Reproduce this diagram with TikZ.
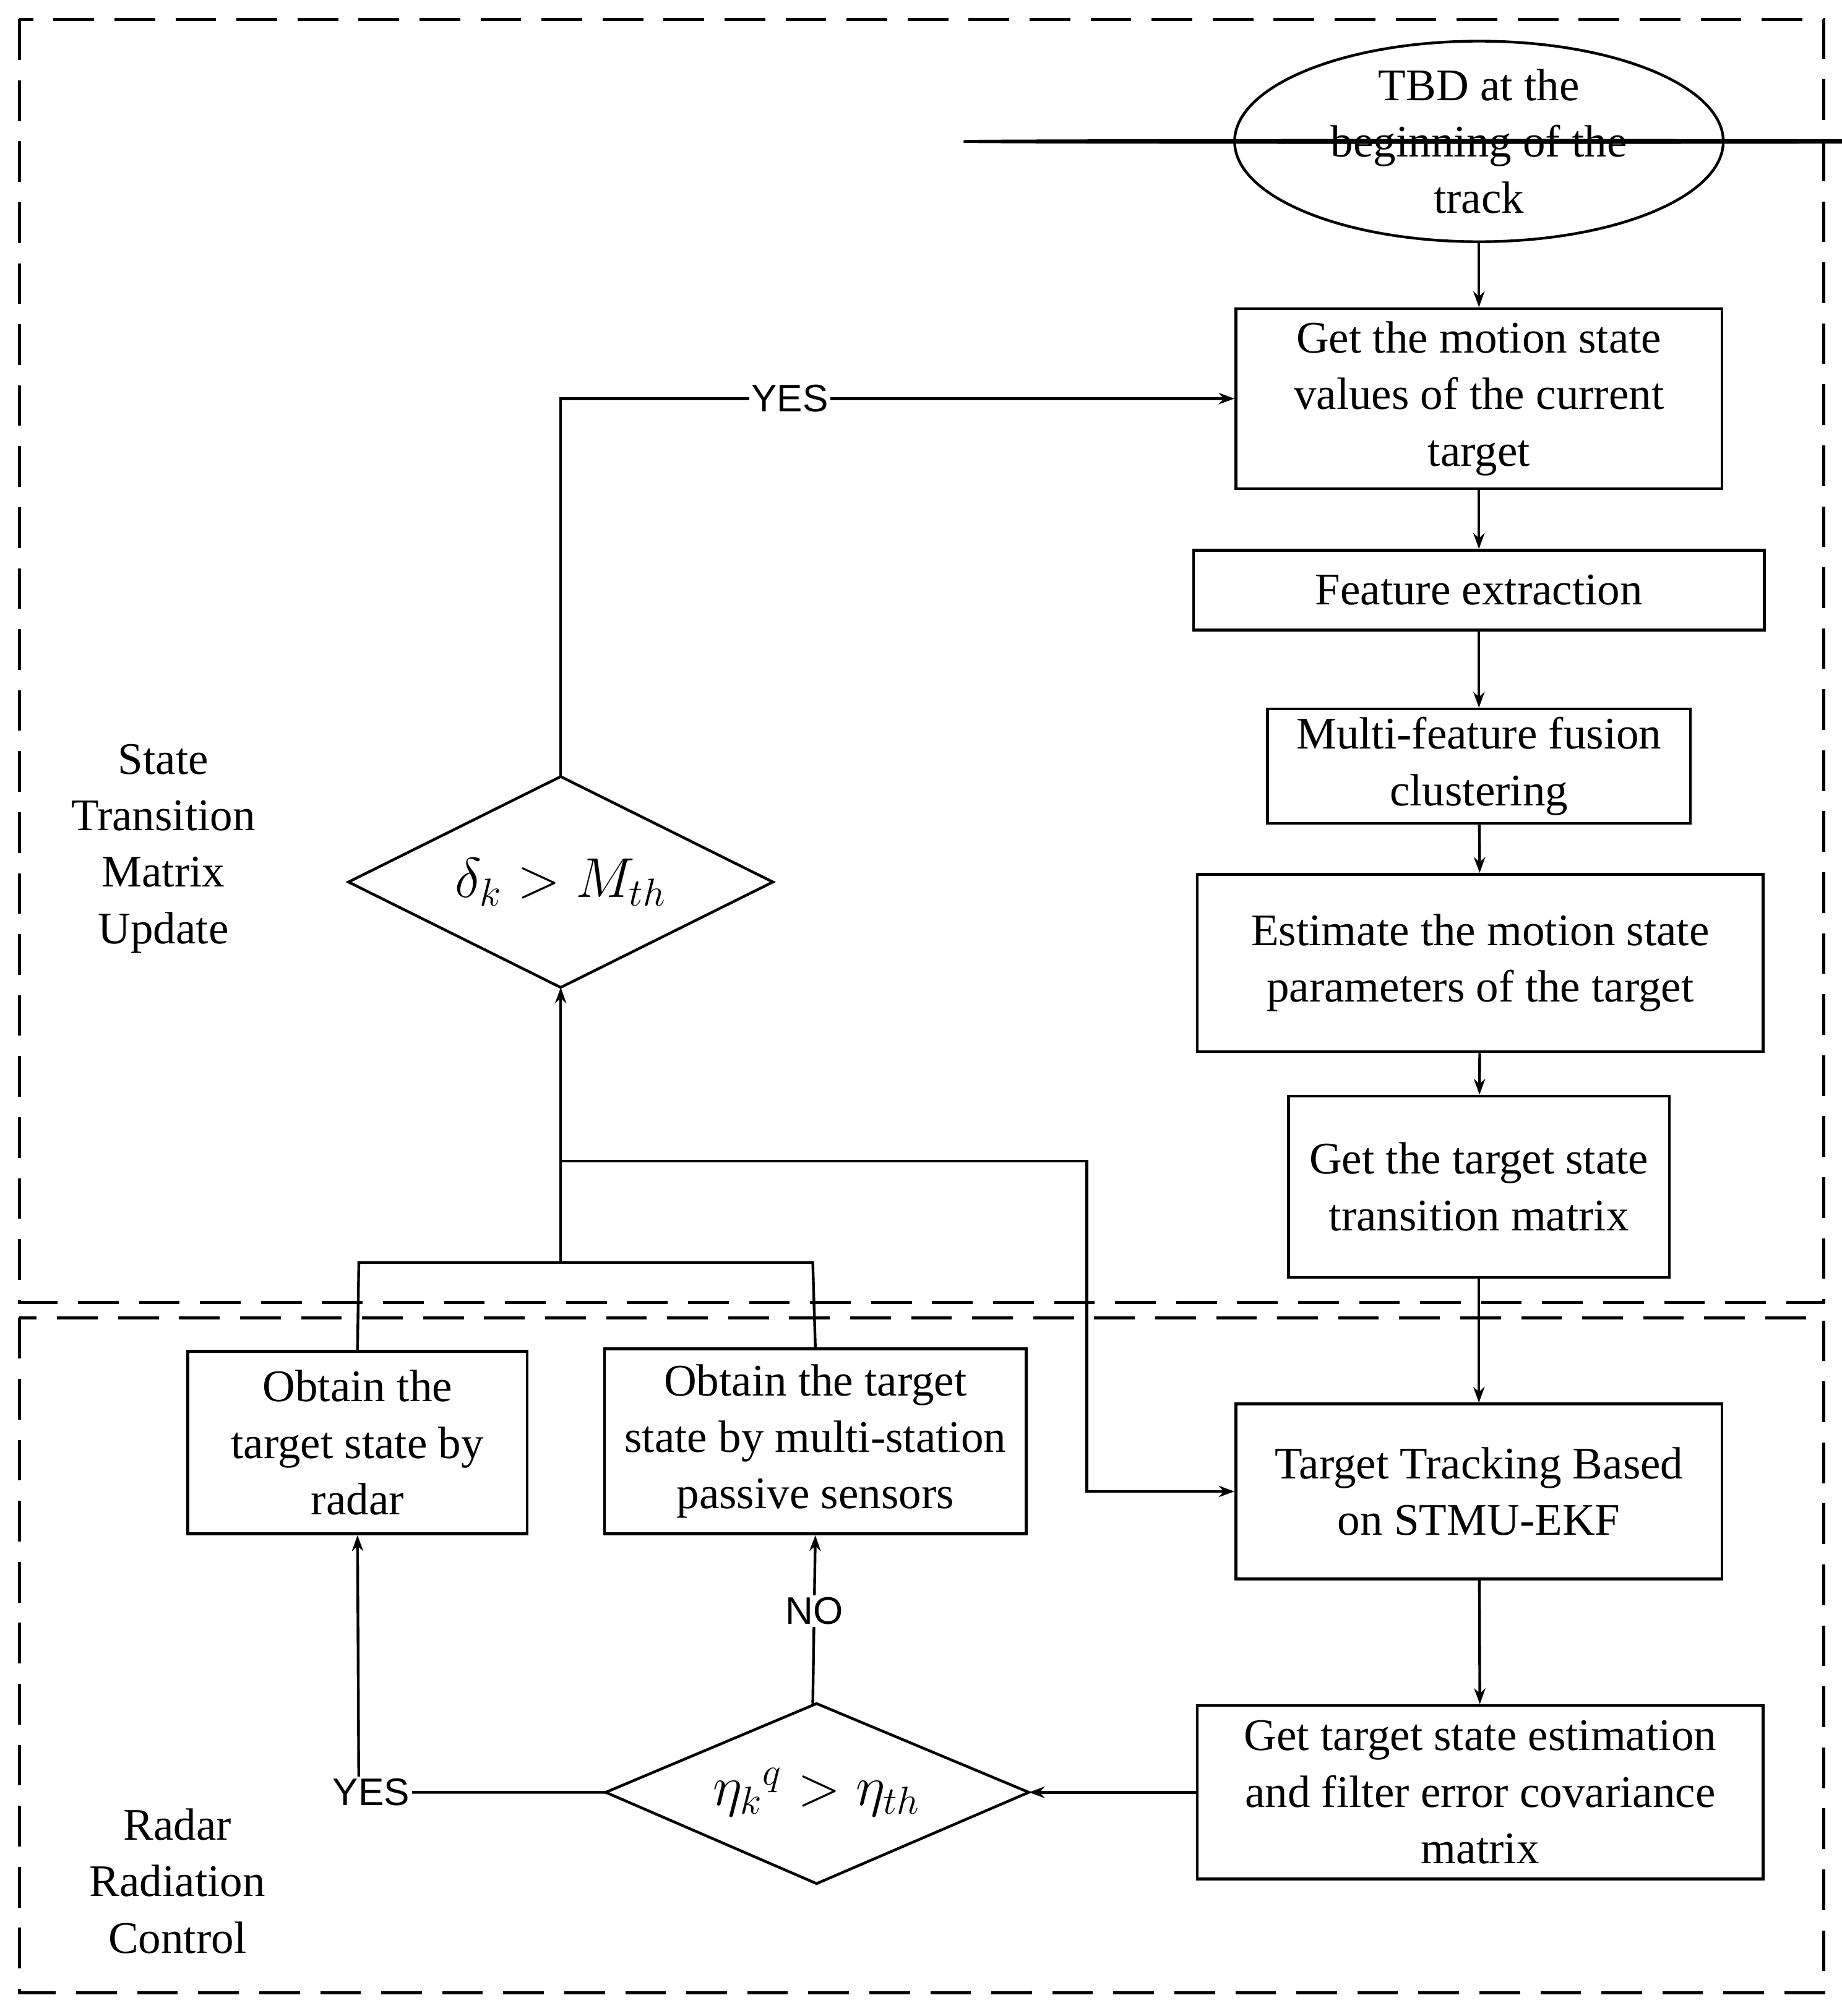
\documentclass[tikz,border=0pt]{standalone}
\usepackage{fontspec}
\setmainfont{Liberation Serif}
\newfontfamily\sansf{Liberation Sans}
\usetikzlibrary{shapes.geometric,arrows.meta}
\begin{document}
\begin{tikzpicture}[x=0.02cm,y=-0.02cm,
  box/.style={draw,line width=1.2pt,align=center,font=\fontsize{20}{25}\selectfont,inner sep=0pt},
  lab/.style={font=\sansf\fontsize{17}{20}\selectfont,fill=white,inner sep=1pt},
  every path/.style={line width=1.2pt},
  arr/.style={-{Stealth[length=7pt,width=5pt]}},
  dsh/.style={draw,dash pattern=on 18pt off 9pt,line width=1.3pt}]
\useasboundingbox (0,0) rectangle (1432,1568);
\draw[dsh] (15,15) rectangle (1418,1013);
\draw[dsh] (15,1025) rectangle (1418,1550);
\node[box,ellipse,minimum width=380\pgflinewidth,inner sep=0pt] (e) at (1150,110) {};
\draw[line width=1.2pt] (1150,110) ellipse [x radius=190, y radius=78];
\node[align=center,font=\fontsize{20}{25}\selectfont] at (1150,110) {TBD at the\\beginning of the\\track};
\coordinate (etop) at (1150,188);
\node[box,minimum width=378*0.02cm,minimum height=140*0.02cm] (b1) at (1150,310) {Get the motion state\\values of the current\\target};
\node[box,minimum width=444*0.02cm,minimum height=62*0.02cm] (b2) at (1150,459) {Feature extraction};
\node[box,minimum width=329*0.02cm,minimum height=89*0.02cm] (b3) at (1150,596) {Multi-feature fusion\\clustering};
\node[box,minimum width=440*0.02cm,minimum height=138*0.02cm] (b4) at (1151,749) {Estimate the motion state\\parameters of the target};
\node[box,minimum width=296*0.02cm,minimum height=141*0.02cm] (b5) at (1150,923) {Get the target state\\transition matrix};
\node[box,minimum width=378*0.02cm,minimum height=136*0.02cm] (b6) at (1150,1160) {Target Tracking Based\\on STMU-EKF};
\node[box,minimum width=440*0.02cm,minimum height=135*0.02cm] (b7) at (1151,1394) {Get target state estimation\\and filter error covariance\\matrix};
\node[box,minimum width=264*0.02cm,minimum height=142*0.02cm] (br) at (278,1122) {Obtain the\\target state by\\radar};
\node[box,minimum width=328*0.02cm,minimum height=144*0.02cm] (bp) at (634,1121) {Obtain the target\\state by multi-station\\passive sensors};
\draw (271,686) -- (436,604) -- (601,686) -- (436,768) -- cycle;
\coordinate (d1t) at (436,604); \coordinate (d1b) at (436,768);
\node[font=\fontsize{26}{30}\selectfont] at (436,686) {$\delta_k > M_{th}$};
\draw (471,1394) -- (635,1325) -- (800,1394) -- (635,1465) -- cycle;
\coordinate (d2t) at (632,1325); \coordinate (d2l) at (471,1394); \coordinate (d2r) at (800,1394);
\node[font=\fontsize{26}{30}\selectfont] at (635,1394) {$\eta_k{}^q > \eta_{th}$};
\node[align=center,font=\fontsize{20}{25}\selectfont] at (127,660) {State\\Transition\\Matrix\\Update};
\node[align=center,font=\fontsize{20}{25}\selectfont] at (138,1463) {Radar\\Radiation\\Control};
% arrows
\draw[arr] (etop) -- (b1);
\draw[arr] (b1) -- (b2);
\draw[arr] (b2) -- (b3);
\draw[arr] (b3) -- (b4);
\draw[arr] (b4) -- (b5);
\draw[arr] (b5) -- (b6);
\draw[arr] (b6) -- (b7);
\draw[arr] (b7.west) -- (d2r);
\draw[arr] (d1t) -- (436,310) -- (b1.west) node[lab,pos=0.34] {YES};
\draw[arr] (d2l) -- (279,1394) node[lab,pos=0.95] {YES} -- (br.south);
\draw[arr] (d2t) -- (bp.south) node[lab,pos=0.55] {NO};
\draw (br.north) -- (279,982) -- (632,982) -- (bp.north);
\draw[arr] (436,982) -- (d1b);
\draw[arr] (436,903) -- (845,903) -- (845,1160) -- (b6.west);
\end{tikzpicture}
\end{document}
